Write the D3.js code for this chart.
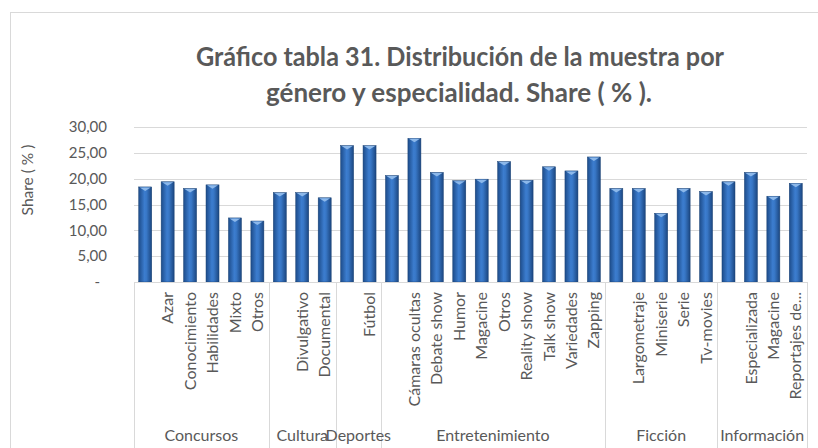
<!DOCTYPE html>
<html>
<head>
<meta charset="utf-8">
<script src="https://cdn.jsdelivr.net/npm/d3@7"></script>
<style>
  body { margin: 0; background: #fff; }
  svg { display: block; font-family: Lato, "Open Sans", sans-serif; }
</style>
</head>
<body>
<div id="chart"></div>
<script>
// genres (second level of the category axis)
const generos = ["Concursos", "Cultura", "Deportes", "Entretenimiento", "Ficción", "Información"];

// specialities per genre (first bar of every genre has no label)
const especialidades = [
    ["", "Azar", "Conocimiento", "Habilidades", "Mixto", "Otros"],
    ["", "Divulgativo", "Documental"],
    ["", "Fútbol"],
    ["", "Cámaras ocultas", "Debate show", "Humor", "Magacine", "Otros", "Reality show", "Talk show", "Variedades", "Zapping"],
    ["", "Largometraje", "Miniserie", "Serie", "Tv-movies"],
    ["", "Especializada", "Magacine", "Reportajes de..."]
];

// share ( % ) per speciality
const share = [
    [18.4, 19.4, 18.1, 18.8, 12.4, 11.8],
    [17.3, 17.3, 16.3],
    [26.4, 26.4],
    [20.6, 27.8, 21.2, 19.6, 19.9, 23.3, 19.7, 22.3, 21.5, 24.2],
    [18.1, 18.1, 13.3, 18.1, 17.5],
    [19.4, 21.2, 16.6, 19.1]
];

const yTicks = [0, 5, 10, 15, 20, 25, 30];

// flatten into one row per bar
let rows = [];
let groupInfo = [];
generos.forEach((g, gi) => {
    groupInfo.push({ name: g, first: rows.length, count: especialidades[gi].length });
    especialidades[gi].forEach((e, ei) => {
        rows.push({ idx: rows.length, genero: g, esp: e, value: share[gi][ei] });
    });
});

var width = 818;
var height = 448;
var margin = { top: 127, right: 11, bottom: 166, left: 134 };
var textColor = "#595959";

var svg = d3.select("#chart")
    .append("svg")
    .attr("width", width)
    .attr("height", height);

// gradient for the bars
const defs = svg.append("defs");
const grad = defs.append("linearGradient")
    .attr("id", "barGrad")
    .attr("x1", "0%").attr("x2", "100%")
    .attr("y1", "0%").attr("y2", "0%");
grad.append("stop").attr("offset", "0%").attr("stop-color", "#1d4c8a");
grad.append("stop").attr("offset", "45%").attr("stop-color", "#3c7dcf");
grad.append("stop").attr("offset", "60%").attr("stop-color", "#3877c6");
grad.append("stop").attr("offset", "100%").attr("stop-color", "#1b4680");

// chart border
svg.append("rect")
    .attr("x", 10.5)
    .attr("y", 12.5)
    .attr("width", 900)
    .attr("height", 600)
    .attr("fill", "none")
    .attr("stroke", "#d9d9d9");

// Title
const title = svg.append("text")
    .attr("text-anchor", "middle")
    .attr("font-weight", "bold")
    .attr("font-size", 26)
    .attr("fill", textColor);
title.append("tspan").attr("x", 460).attr("y", 66)
    .attr("textLength", 528).attr("lengthAdjust", "spacingAndGlyphs")
    .text("Gráfico tabla 31. Distribución de la muestra por");
title.append("tspan").attr("x", 459).attr("y", 102)
    .attr("textLength", 386).attr("lengthAdjust", "spacingAndGlyphs")
    .text("género y especialidad. Share ( % ).");

// Scales
const x = d3.scaleBand()
    .domain(rows.map(d => d.idx))
    .range([margin.left, width - margin.right])
    .paddingInner(0.42)
    .paddingOuter(0.21);

const y = d3.scaleLinear()
    .domain([0, 30])
    .range([282, margin.top]);

const x0 = x.range()[0], x1 = x.range()[1];

// gridlines
svg.append("g")
    .selectAll("line")
    .data(yTicks.filter(t => t > 0))
    .join("line")
    .attr("x1", x0)
    .attr("x2", x1)
    .attr("y1", d => Math.round(y(d)) + 0.5)
    .attr("y2", d => Math.round(y(d)) + 0.5)
    .attr("stroke", "#d9d9d9");

// y tick labels
svg.append("g")
    .selectAll("text")
    .data(yTicks)
    .join("text")
    .attr("x", d => d === 0 ? 100 : 107)
    .attr("y", d => y(d))
    .attr("dy", "0.35em")
    .attr("text-anchor", "end")
    .attr("font-size", 15)
    .attr("fill", textColor)
    .text(d => d === 0 ? "-" : d3.format(".2f")(d).replace(".", ","));

// y axis title
svg.append("text")
    .attr("transform", "translate(33,180) rotate(-90)")
    .attr("text-anchor", "middle")
    .attr("font-size", 15.5)
    .attr("fill", textColor)
    .text("Share ( % )");

// Draw bars
const bars = svg.append("g")
    .selectAll("g")
    .data(rows)
    .join("g");

bars.append("rect")
    .attr("x", d => x(d.idx))
    .attr("y", d => y(d.value))
    .attr("width", x.bandwidth())
    .attr("height", d => y(0) - y(d.value))
    .attr("fill", "url(#barGrad)")
    .attr("stroke", "#1a4274")
    .attr("stroke-width", 0.5);

// light bevel on the top of each bar
bars.append("path")
    .attr("d", d => {
        const bx = x(d.idx), by = y(d.value), w = x.bandwidth();
        return `M${bx + 1},${by + 0.5} L${bx + w - 1},${by + 0.5} L${bx + w / 2},${by + 4} Z`;
    })
    .attr("fill", "#8cb8ea");

// category axis line
svg.append("line")
    .attr("x1", x0).attr("x2", x1)
    .attr("y1", 282.5).attr("y2", 282.5)
    .attr("stroke", "#d9d9d9");

// group separators
const sepPos = groupInfo.map(g => x(g.first) - x.step() * x.paddingInner() / 2);
sepPos.push(x1);
svg.append("g")
    .selectAll("line")
    .data(sepPos)
    .join("line")
    .attr("x1", d => Math.round(d) + 0.5)
    .attr("x2", d => Math.round(d) + 0.5)
    .attr("y1", 282)
    .attr("y2", 448)
    .attr("stroke", "#d9d9d9");

// speciality labels (rotated)
svg.append("g")
    .selectAll("text")
    .data(rows.filter(d => d.esp !== ""))
    .join("text")
    .attr("transform", d => `translate(${x(d.idx) + x.bandwidth() / 2},292) rotate(-90)`)
    .attr("dy", "0.35em")
    .attr("text-anchor", "end")
    .attr("font-size", 16)
    .attr("fill", textColor)
    .text(d => d.esp);

// genre labels
svg.append("g")
    .selectAll("text")
    .data(groupInfo)
    .join("text")
    .attr("x", (d, i) => (sepPos[i] + sepPos[i + 1]) / 2)
    .attr("y", 441)
    .attr("text-anchor", "middle")
    .attr("font-size", 16)
    .attr("fill", textColor)
    .text(d => d.name);
</script>
</body>
</html>
